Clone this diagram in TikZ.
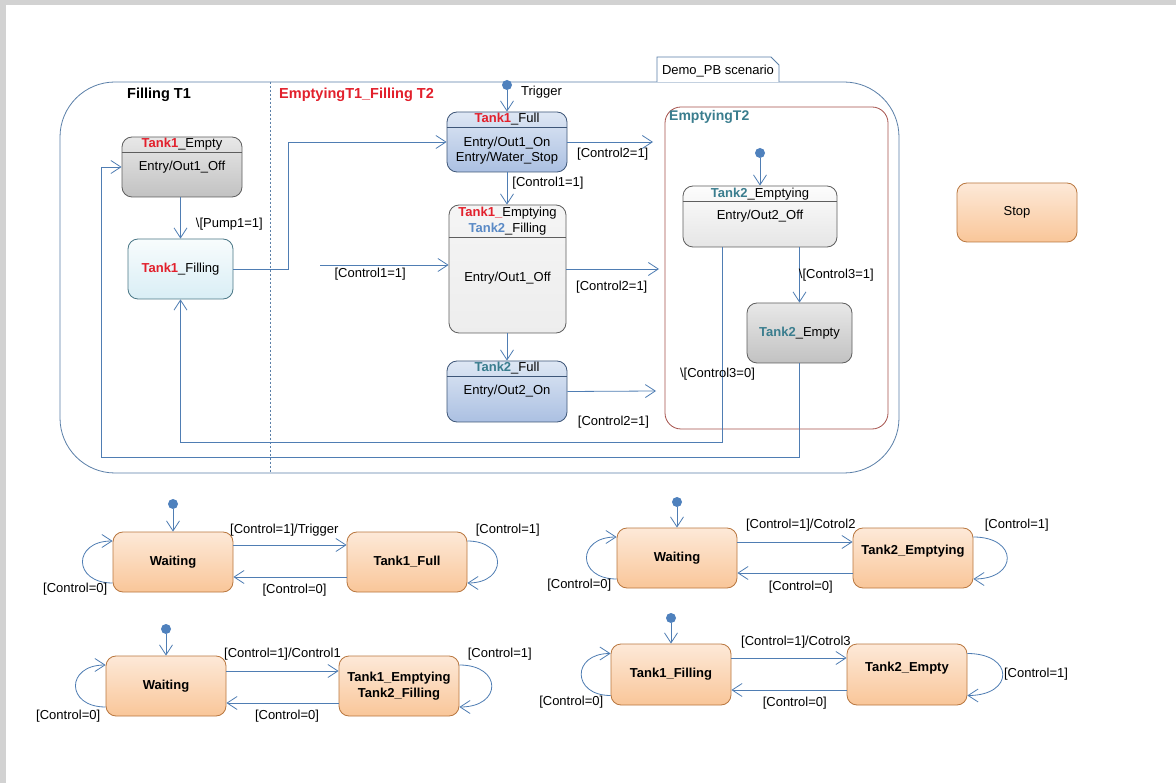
\documentclass[tikz,border=0pt]{standalone}
\usepackage{fontspec}
\setmainfont{Liberation Sans}
\usetikzlibrary{arrows.meta}
\definecolor{linecol}{HTML}{4F7DB3}
\definecolor{framecol}{HTML}{5A7FA8}
\definecolor{dotcol}{HTML}{4F81BD}
\definecolor{tkred}{HTML}{E2202C}
\definecolor{tkteal}{HTML}{3A7D8E}
\definecolor{tkblue}{HTML}{5A8AC6}
\definecolor{regcol}{HTML}{A5514B}
\definecolor{pagegray}{HTML}{D2D2D2}
\definecolor{greyedge}{HTML}{5E5E5E}
\definecolor{blueedge}{HTML}{3E5678}
\definecolor{cyanedge}{HTML}{4A7786}
\definecolor{orangeedge}{HTML}{B9773F}
\definecolor{bluetop}{HTML}{DEE7F4}
\definecolor{bluebot}{HTML}{ABC0E2}
\definecolor{cyantop}{HTML}{F8FCFD}
\definecolor{cyanbot}{HTML}{D9EEF5}
\definecolor{orangetop}{HTML}{FDE9D8}
\definecolor{orangebot}{HTML}{F9C699}
\newcommand{\redtank}[1]{\textcolor{tkred}{\textbf{#1}}}
\newcommand{\tealtank}[1]{\textcolor{tkteal}{\textbf{#1}}}
\newcommand{\bluetank}[1]{\textcolor{tkblue}{\textbf{#1}}}

\begin{document}
\begin{tikzpicture}[x=1pt,y=-1pt,>={Straight Barb[length=10pt,width=13pt]},
  every node/.style={inner sep=0pt,font=\fontsize{13}{15}\selectfont},
  link/.style={draw=linecol,line width=0.8pt},
  box/.style={line width=0.8pt,rounded corners=10pt},
  greybox/.style={box,draw=greyedge,top color=black!9,bottom color=black!24},
  lightbox/.style={box,draw=greyedge,top color=black!4,bottom color=black!7},
  whitebox/.style={box,draw=greyedge,top color=black!1,bottom color=black!10},
  cyanbox/.style={box,draw=cyanedge,top color=cyantop,bottom color=cyanbot},
  bluebox/.style={box,draw=blueedge,top color=bluetop,bottom color=bluebot},
  ostate/.style={box,draw=orangeedge,top color=orangetop,bottom color=orangebot,
    minimum width=120pt,minimum height=60pt,font=\fontsize{13}{16}\selectfont\bfseries},
  otext/.style={font=\fontsize{13}{16}\selectfont\bfseries},
  title/.style={anchor=west,font=\fontsize{14.5}{17}\selectfont\bfseries},
  dot/.style={circle,fill=dotcol,minimum size=10pt}]

  \fill[white] (0,0) rectangle (1176,783);
  \useasboundingbox (0,0) rectangle (1176,783);
  \fill[pagegray] (0,0) rectangle (1176,5);
  \fill[pagegray] (0,0) rectangle (6,783);

  % scenario frame
  \node[draw=framecol,line width=0.8pt,rounded corners=55pt,
    minimum width=839pt,minimum height=391pt] (scen) at (479.5,277.5) {};
  \draw[framecol,dash pattern=on 2pt off 2pt] (scen.north -| 270,0) -- (scen.south -| 270,0);
  \draw[framecol,line width=0.8pt,fill=white] (657,82) -- (657,57) -- (771,57) -- (779,65) -- (779,82);
  \node (tab) at (718,71) {Demo\_PB scenario};
  \node[title] (ft1) at (127,95) {Filling T1};
  \node[title,text=tkred] (et1) at (279,95) {EmptyingT1\_Filling T2};

  \node[draw=regcol,line width=0.8pt,rounded corners=16pt,
    minimum width=223pt,minimum height=322pt] (reg) at (776.5,268) {};
  \node[title,font=\fontsize{14}{17}\selectfont\bfseries,text=tkteal] (et2) at (669,117) {EmptyingT2};

  % states of the scenario
  \node[greybox,minimum width=120pt,minimum height=60pt] (t1e) at (182,167) {};
  \draw[greyedge,line width=0.8pt] (t1e.west |- 0,152) -- (t1e.east |- 0,152);
  \node (t1eh) at (182,144) {\redtank{Tank1}\_Empty};
  \node (t1eb) at (182,167) {Entry/Out1\_Off};

  \node[cyanbox,minimum width=105pt,minimum height=60pt] (t1fi) at (180.5,269) {\redtank{Tank1}\_Filling};

  \node[bluebox,minimum width=120pt,minimum height=60pt] (t1f) at (507,142) {};
  \draw[blueedge,line width=0.8pt] (t1f.west |- 0,127) -- (t1f.east |- 0,127);
  \node (t1fh) at (507,119) {\redtank{Tank1}\_Full};
  \node[align=center] (t1fb) at (507,151) {Entry/Out1\_On\\Entry/Water\_Stop};

  \node[lightbox,minimum width=117pt,minimum height=128pt] (t12) at (507.5,269) {};
  \draw[greyedge,line width=0.8pt] (t12.west |- 0,237) -- (t12.east |- 0,237);
  \node (t12h) at (507.5,213) {\redtank{Tank1\_}Emptying};
  \node (t12g) at (507.5,229.5) {\bluetank{Tank2}\_Filling};
  \node (t12b) at (507.5,278) {Entry/Out1\_Off};

  \node[bluebox,minimum width=120pt,minimum height=61pt] (t2f) at (507,391.5) {};
  \draw[blueedge,line width=0.8pt] (t2f.west |- 0,376) -- (t2f.east |- 0,376);
  \node (t2fh) at (507,368) {\tealtank{Tank2}\_Full};
  \node (t2fb) at (507,391) {Entry/Out2\_On};

  \node[whitebox,minimum width=154pt,minimum height=61pt] (t2e) at (760,216.5) {};
  \draw[greyedge,line width=0.8pt] (t2e.west |- 0,201) -- (t2e.east |- 0,201);
  \node (t2eh) at (760,194) {\tealtank{Tank2}\_Emptying};
  \node (t2eb) at (760,216) {Entry/Out2\_Off};

  \node[greybox,minimum width=105pt,minimum height=60pt] (t2y) at (799.5,333) {\tealtank{Tank2}\_Empty};

  \node[box,draw=orangeedge,top color=orangetop,bottom color=orangebot,
    minimum width=120pt,minimum height=59pt] (stop) at (1017,212.5) {Stop};

  \node[dot] (i1) at (507,85) {};
  \node[anchor=west] (trig) at (521,92) {Trigger};
  \node[dot] (i2) at (760,153) {};
  \coordinate (cx0) at (320,265);
  \coordinate (cx1) at (653,142);
  \coordinate (cx2) at (659,269);
  \coordinate (cx3) at (656,391);
  \coordinate (k2) at (101,457);

  \draw[link,->] (i1) -- (t1f.north);
  \draw[link,->] (t1f.south) -- (t1f.south |- t12.north) node[pos=.33,anchor=west,xshift=5pt] {[Control1=1]};
  \draw[link,->] (t1f.east) -- (cx1) node[pos=.53,below=6pt] {[Control2=1]};
  \draw[link,->] (t12.east) -- (cx2) node[pos=.49,below=12pt] {[Control2=1]};
  \draw[link,->] (t2f.east) -- (cx3) node[pos=.52,below=24pt] {[Control2=1]};
  \draw[link,->] (cx0) -- (t12.west |- cx0) node[pos=.39,below=3pt] {[Control1=1]};
  \draw[link,->] (t12.south -| t2f.north) -- (t2f.north);
  \draw[link,->] (t1e.south -| t1fi.north) -- (t1fi.north) node[pos=.64,anchor=west,xshift=15pt] {\textbackslash[Pump1=1]};
  \draw[link,->] (t1fi.east) -- ++(55,0) |- (t1f.west);
  \draw[link,->] (i2) -- (t2e.north);
  \draw[link,->] (t2y.north |- t2e.south) -- (t2y.north) node[pos=.5,anchor=west,xshift=-1pt] {\textbackslash[Control3=1]};
  \draw[link,->] ([xshift=-38pt]t2e.south) -- ++(0,195) node[pos=.65,xshift=-4.5pt] {\textbackslash[Control3=0]} -| (t1fi.south);
  \draw[link,->] (t2y.south) |- (k2) |- (t1e.west);

  % Waiting / Tank1_Full
  \node[ostate] (w1) at (173,562) {Waiting};
  \node[ostate] (tf1) at (407,562) {Tank1\_Full};
  \node[dot] (i3) at (173,504) {};
  \draw[link,->] (i3) -- (w1.north);
  \draw[link,->] ([yshift=17pt]w1.east) -- ([yshift=17pt]tf1.west) node[pos=.45,above=8pt] {[Control=1]/Trigger};
  \draw[link,->] ([yshift=-15pt]tf1.west) -- ([yshift=-15pt]w1.east) node[pos=.46,below=7pt] {[Control=0]};
  \draw[link,->] ([yshift=-21pt]w1.west) .. controls +(-40,0) and +(-40,0) .. ([yshift=21pt]w1.west)
    node[pos=0,anchor=north east,xshift=-5pt] {[Control=0]};
  \draw[link,->] ([yshift=21pt]tf1.east) .. controls +(40,0) and +(40,0) .. ([yshift=-21pt]tf1.east)
    node[pos=0,anchor=south west,xshift=8pt,yshift=4pt] {[Control=1]};

  % Waiting / Tank2_Emptying
  \node[ostate] (w2) at (677,558) {Waiting};
  \node[ostate] (e2) at (913,558) {};
  \node[otext] (e2t) at (913,551) {Tank2\_Emptying};
  \node[dot] (i4) at (677,502) {};
  \draw[link,->] (i4) -- (w2.north);
  \draw[link,->] ([yshift=16pt]w2.east) -- ([yshift=16pt]e2.west) node[pos=.55,above=10pt] {[Control=1]/Cotrol2};
  \draw[link,->] ([yshift=-15pt]e2.west) -- ([yshift=-15pt]w2.east) node[pos=.45,below=8pt] {[Control=0]};
  \draw[link,->] ([yshift=-21pt]w2.west) .. controls +(-40,0) and +(-40,0) .. ([yshift=21pt]w2.west)
    node[pos=0,anchor=north east,xshift=-5pt] {[Control=0]};
  \draw[link,->] ([yshift=21pt]e2.east) .. controls +(45,0) and +(45,0) .. ([yshift=-21pt]e2.east)
    node[pos=0,anchor=south west,xshift=11pt,yshift=5pt] {[Control=1]};

  % Waiting / Tank1_Emptying Tank2_Filling
  \node[ostate] (w3) at (166,686) {Waiting};
  \node[ostate,align=center] (te3) at (399,686) {Tank1\_Emptying\\Tank2\_Filling};
  \node[dot] (i5) at (166,629) {};
  \draw[link,->] (i5) -- (w3.north);
  \draw[link,->] ([yshift=15pt]w3.east) -- ([yshift=15pt]te3.west) node[pos=.5,above=10pt] {[Control=1]/Control1};
  \draw[link,->] ([yshift=-17pt]te3.west) -- ([yshift=-17pt]w3.east) node[pos=.46,below=7pt] {[Control=0]};
  \draw[link,->] ([yshift=-21pt]w3.west) .. controls +(-40,0) and +(-40,0) .. ([yshift=21pt]w3.west)
    node[pos=0,anchor=north east,xshift=-5pt,yshift=-3pt] {[Control=0]};
  \draw[link,->] ([yshift=21pt]te3.east) .. controls +(43,0) and +(43,0) .. ([yshift=-21pt]te3.east)
    node[pos=0,anchor=south west,xshift=8pt,yshift=4pt] {[Control=1]};

  % Tank1_Filling / Tank2_Empty
  \node[ostate,minimum height=61pt] (tf4) at (671,674.5) {Tank1\_Filling};
  \node[ostate,minimum height=61pt] (ty4) at (907,674.5) {};
  \node[otext] (ty4t) at (907,668) {Tank2\_Empty};
  \node[dot] (i6) at (671,618) {};
  \draw[link,->] (i6) -- (tf4.north);
  \draw[link,->] ([yshift=16.5pt]tf4.east) -- ([yshift=16.5pt]ty4.west) node[pos=.56,above=9pt] {[Control=1]/Cotrol3};
  \draw[link,->] ([yshift=-15.5pt]ty4.west) -- ([yshift=-15.5pt]tf4.east) node[pos=.45,below=7pt] {[Control=0]};
  \draw[link,->] ([yshift=-21pt]tf4.west) .. controls +(-39,0) and +(-39,0) .. ([yshift=21pt]tf4.west)
    node[pos=0,anchor=north east,xshift=-7pt] {[Control=0]};
  \draw[link,->] ([yshift=21pt]ty4.east) .. controls +(47,0) and +(47,0) .. ([yshift=-21pt]ty4.east)
    node[pos=.5,anchor=west,xshift=1pt] {[Control=1]};

\end{tikzpicture}
\end{document}
